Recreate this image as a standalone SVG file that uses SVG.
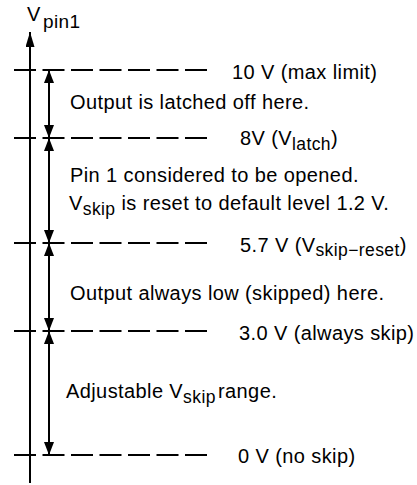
<svg xmlns="http://www.w3.org/2000/svg" width="417" height="485" viewBox="0 0 417 485">
<style>
text{font-family:"Liberation Sans",Arial,sans-serif;font-size:20px;letter-spacing:0.4px;fill:#000}
.sub{font-size:17.5px}
.dash{stroke:#000;stroke-width:2;stroke-dasharray:22 6.5;fill:none}
.ln{stroke:#000;stroke-width:2;fill:none}
</style>
<defs>
<marker id="ah" viewBox="0 0 13 10" refX="13" refY="5" markerWidth="13" markerHeight="10" markerUnits="userSpaceOnUse" orient="auto"><path d="M0,0L13,5L0,10z" fill="#000"/></marker>
<marker id="ax" viewBox="0 0 15 9" refX="15" refY="4.5" markerWidth="15" markerHeight="9" markerUnits="userSpaceOnUse" orient="auto"><path d="M0,0L15,4.5L0,9z" fill="#000"/></marker>
</defs>
<g id="connectors">
<line class="ln" x1="30" y1="483" x2="30" y2="32" marker-end="url(#ax)"/>
<line class="dash" x1="14" y1="70" x2="208" y2="70"/>
<line class="dash" x1="14" y1="138" x2="208" y2="138"/>
<line class="dash" x1="14" y1="243" x2="208" y2="243"/>
<line class="dash" x1="14" y1="331" x2="208" y2="331"/>
<line class="dash" x1="14" y1="455" x2="208" y2="455"/>
<line class="ln" x1="49" y1="104" x2="49" y2="70" marker-end="url(#ah)"/>
<line class="ln" x1="49" y1="104" x2="49" y2="138" marker-end="url(#ah)"/>
<line class="ln" x1="49" y1="190" x2="49" y2="138" marker-end="url(#ah)"/>
<line class="ln" x1="49" y1="190" x2="49" y2="243" marker-end="url(#ah)"/>
<line class="ln" x1="49" y1="287" x2="49" y2="243" marker-end="url(#ah)"/>
<line class="ln" x1="49" y1="287" x2="49" y2="331" marker-end="url(#ah)"/>
<line class="ln" x1="49" y1="393" x2="49" y2="331" marker-end="url(#ah)"/>
<line class="ln" x1="49" y1="393" x2="49" y2="455" marker-end="url(#ah)"/>
</g>
<g id="axis-label"><text x="27" y="21" font-size="19">V<tspan x="43" y="28" font-size="19">pin1</tspan></text></g>
<g id="level-10"><text x="232" y="79">10 V (max limit)</text></g>
<g id="zone-latched"><text x="70" y="109">Output is latched off here.</text></g>
<g id="level-8"><text x="240" y="145">8V (V<tspan class="sub" dy="5">latch</tspan><tspan dy="-5">)</tspan></text></g>
<g id="zone-open"><text x="70" y="182">Pin 1 considered to be opened.</text>
<text x="69" y="210">V<tspan class="sub" dy="5">skip</tspan><tspan dy="-5"> is reset to default level 1.2 V.</tspan></text></g>
<g id="level-57"><text x="240" y="252">5.7 V (V<tspan class="sub" dy="4">skip−reset</tspan><tspan dy="-4">)</tspan></text></g>
<g id="zone-skipped"><text x="70" y="300">Output always low (skipped) here.</text></g>
<g id="level-3"><text x="239" y="340">3.0 V (always skip)</text></g>
<g id="zone-adjust"><text x="66" y="398">Adjustable V<tspan class="sub" dy="5">skip</tspan><tspan x="218" dy="-5">range.</tspan></text></g>
<g id="level-0"><text x="238" y="463">0 V (no skip)</text></g>
</svg>
